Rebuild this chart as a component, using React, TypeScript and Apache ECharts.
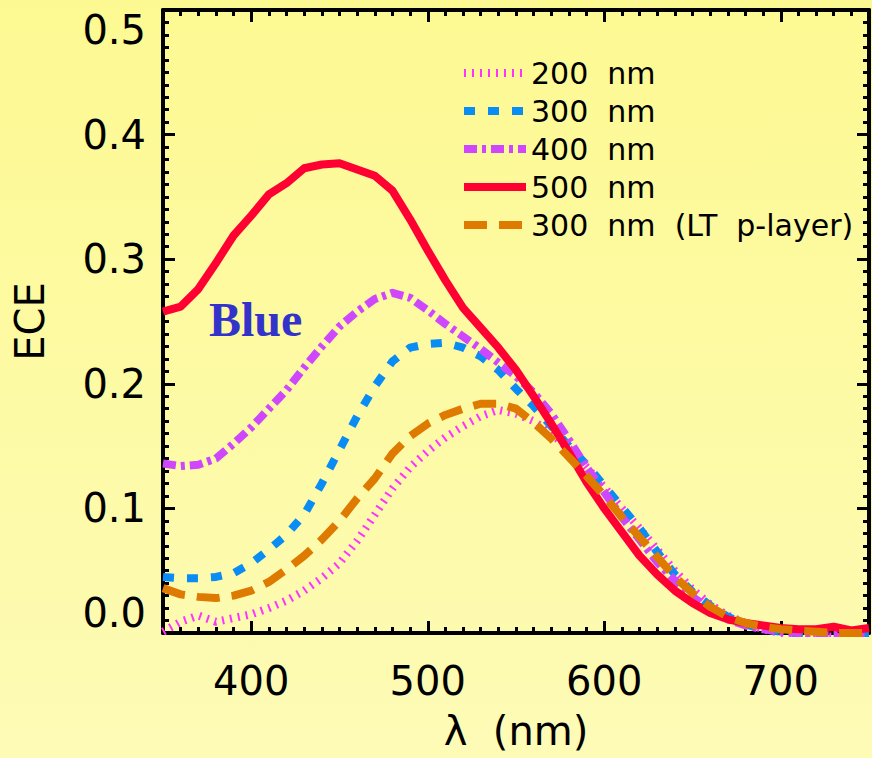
import React, { useEffect, useRef } from "react";
import * as echarts from "echarts";

// wavelength (nm)
const wavelengths = [
  350, 360, 370, 380, 390, 400, 410, 420, 430, 440,
  450, 460, 470, 480, 490, 500, 510, 520, 530, 540,
  550, 560, 570, 580, 590, 600, 610, 620, 630, 640,
  650, 660, 670, 680, 690, 700, 710, 720, 730, 740, 750,
];

const ece200 = [
  0.001, 0.009, 0.014, 0.009, 0.012, 0.015, 0.020, 0.026, 0.034, 0.044,
  0.056, 0.074, 0.095, 0.116, 0.133, 0.146, 0.157, 0.166, 0.174, 0.179,
  0.176, 0.170, 0.160, 0.148, 0.133, 0.117, 0.100, 0.084, 0.067, 0.050,
  0.035, 0.023, 0.014, 0.008, 0.003, 0.000, -0.002, -0.002, -0.003, -0.003, -0.002,
];

const ece300 = [
  0.045, 0.044, 0.044, 0.045, 0.048, 0.056, 0.067, 0.079, 0.095, 0.120,
  0.147, 0.174, 0.198, 0.218, 0.229, 0.232, 0.233, 0.229, 0.222, 0.211,
  0.196, 0.182, 0.166, 0.150, 0.135, 0.118, 0.101, 0.084, 0.065, 0.047,
  0.033, 0.022, 0.013, 0.007, 0.003, 0.001, -0.001, -0.002, -0.002, -0.002, -0.001,
];

const ece400 = [
  0.136, 0.134, 0.135, 0.140, 0.152, 0.165, 0.180, 0.195, 0.213, 0.230,
  0.246, 0.258, 0.268, 0.273, 0.269, 0.259, 0.248, 0.238, 0.228, 0.217,
  0.206, 0.193, 0.176, 0.155, 0.133, 0.113, 0.093, 0.075, 0.057, 0.042,
  0.029, 0.019, 0.011, 0.006, 0.003, 0.001, 0.000, -0.001, -0.001, -0.001, -0.001,
];

const ece500 = [
  0.258, 0.262, 0.276, 0.297, 0.319, 0.335, 0.352, 0.361, 0.373, 0.376,
  0.377, 0.372, 0.367, 0.355, 0.332, 0.307, 0.283, 0.261, 0.245, 0.229,
  0.211, 0.190, 0.168, 0.145, 0.121, 0.100, 0.081, 0.062, 0.047, 0.034,
  0.024, 0.016, 0.011, 0.008, 0.006, 0.004, 0.003, 0.003, 0.005, 0.002, 0.004,
];

const ece300LT = [
  0.036, 0.031, 0.029, 0.028, 0.030, 0.034, 0.041, 0.051, 0.062, 0.075,
  0.090, 0.108, 0.124, 0.144, 0.158, 0.168, 0.175, 0.180, 0.184, 0.184,
  0.180, 0.169, 0.156, 0.141, 0.126, 0.110, 0.093, 0.077, 0.061, 0.045,
  0.032, 0.021, 0.013, 0.008, 0.005, 0.003, 0.002, 0.001, 0.000, 0.000, 0.000,
];

const seriesNames = ["200  nm", "300  nm", "400  nm", "500  nm", "300  nm  (LT  p-layer)"];
const majorXTicks = [400, 500, 600, 700];

export default function App() {
  const ref = useRef<HTMLDivElement>(null);

  useEffect(() => {
    if (!ref.current) return;
    const chart = echarts.init(ref.current, null, { renderer: "svg" });
    const font = "DejaVu Sans";
    const pair = (arr: number[]) => wavelengths.map((w, i) => [w, arr[i]]);
    const lineC = { color: "#000", width: 3 };
    const axLine = { show: true, lineStyle: { color: "#000", width: 4 } };

    const xBase = { type: "value", min: 350, max: 750, splitLine: { show: false } };
    const yBase = {
      type: "value",
      min: 0,
      max: 0.5,
      interval: 0.1,
      splitLine: { show: false },
      minorSplitLine: { show: false },
      axisLine: axLine,
      axisTick: { inside: true, length: 12, lineStyle: lineC },
      minorTick: { show: true, splitNumber: 10, length: 6, lineStyle: lineC },
    };

    const mkSeries = (name: string, arr: number[], color: string, type: any, z: number) => ({
      name,
      type: "line",
      data: pair(arr),
      symbol: "none",
      showSymbol: false,
      xAxisIndex: 0,
      yAxisIndex: 0,
      z,
      lineStyle: { color, width: 8, type, cap: "butt", join: "round" },
      itemStyle: { color },
    });

    chart.setOption({
      animation: false,
      backgroundColor: {
        type: "linear",
        x: 0,
        y: 0,
        x2: 0,
        y2: 1,
        colorStops: [
          { offset: 0, color: "#fdf992" },
          { offset: 1, color: "#fdfbb6" },
        ],
      },
      grid: { left: 163, top: 10, right: 1, bottom: 125, containLabel: false },
      legend: {
        orient: "vertical",
        left: 455,
        top: 53,
        itemWidth: 62,
        itemHeight: 1,
        itemGap: 8,
        data: seriesNames,
        lineStyle: { width: 8 },
        itemStyle: { borderWidth: 0 },
        textStyle: { fontFamily: font, fontSize: 30, color: "#000" },
      },
      xAxis: [
        {
          ...xBase,
          position: "bottom",
          interval: 10,
          axisLine: axLine,
          axisTick: { inside: true, length: 6, lineStyle: lineC },
          axisLabel: {
            formatter: (v: number) => (v % 100 === 0 ? String(v) : ""),
            fontFamily: font,
            fontSize: 40,
            color: "#000",
            margin: 28,
          },
          name: "λ  (nm)",
          nameLocation: "middle",
          nameGap: 78,
          nameTextStyle: { fontFamily: font, fontSize: 40, color: "#000" },
        },
        {
          ...xBase,
          position: "bottom",
          axisLine: { show: false },
          axisTick: { inside: true, length: 12, lineStyle: lineC, customValues: majorXTicks },
          axisLabel: { show: false },
        },
        {
          ...xBase,
          position: "top",
          interval: 10,
          axisLine: axLine,
          axisTick: { inside: true, length: 6, lineStyle: lineC },
          axisLabel: { show: false },
        },
        {
          ...xBase,
          position: "top",
          axisLine: { show: false },
          axisTick: { inside: true, length: 12, lineStyle: lineC, customValues: majorXTicks },
          axisLabel: { show: false },
        },
      ],
      yAxis: [
        {
          ...yBase,
          position: "left",
          axisLabel: {
            formatter: (v: number) => v.toFixed(1),
            fontFamily: font,
            fontSize: 40,
            color: "#000",
            margin: 17,
            verticalAlignMaxLabel: "top",
            verticalAlignMinLabel: "bottom",
          },
          name: "ECE",
          nameLocation: "middle",
          nameGap: 113,
          nameTextStyle: { fontFamily: font, fontSize: 40, color: "#000" },
        },
        {
          ...yBase,
          position: "right",
          axisLabel: { show: false },
        },
      ],
      graphic: [
        {
          type: "text",
          x: 209,
          y: 319,
          z: 10,
          style: {
            text: "Blue",
            fontFamily: "Liberation Serif",
            fontWeight: "bold",
            fontSize: 48,
            fill: "#3333cc",
            verticalAlign: "middle",
          },
        },
      ],
      series: [
        mkSeries(seriesNames[0], ece200, "#ff33ff", [2, 6], 2),
        mkSeries(seriesNames[1], ece300, "#0a8cf5", [11, 13], 3),
        mkSeries(seriesNames[2], ece400, "#cf47fc", [13, 5, 4, 5], 4),
        mkSeries(seriesNames[3], ece500, "#ff0033", "solid", 5),
        mkSeries(seriesNames[4], ece300LT, "#df7a00", [23, 12], 6),
      ],
    });

    return () => chart.dispose();
  }, []);

  return (
    <div
      ref={ref}
      style={{ position: "absolute", left: 0, top: 0, width: 872, height: 758 }}
    />
  );
}
